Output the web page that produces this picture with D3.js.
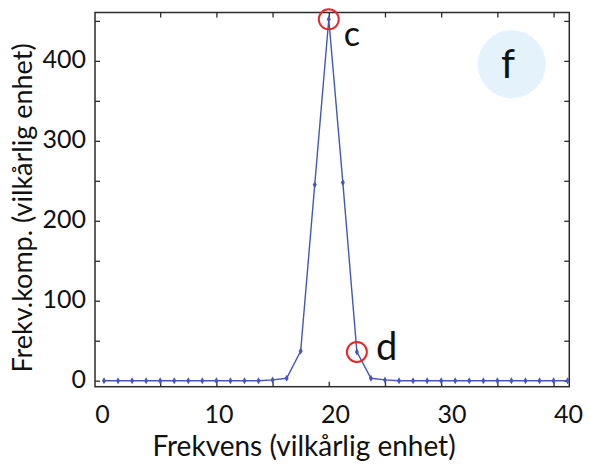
<!DOCTYPE html>
<html>
<head>
<meta charset="utf-8">
<script src="https://cdn.jsdelivr.net/npm/d3@7"></script>
<style>
  html, body { margin: 0; padding: 0; background: #fff; }
  svg { display: block; font-family: Lato, "Open Sans", sans-serif; }
</style>
</head>
<body>
<svg id="chart" width="590" height="468"></svg>
<script>
// Frequency bins (arbitrary unit) and the component amplitude at each bin
const freq = [0, 1.25, 2.5, 3.75, 5, 6.25, 7.5, 8.75, 10, 11.25, 12.5, 13.75,
              15, 16.25, 17.5, 18.75, 20, 21.25, 22.5, 23.75, 25, 26.25, 27.5,
              28.75, 30, 31.25, 32.5, 33.75, 35, 36.25, 37.5, 38.75, 40, 41.25];
const amp = [0, 0, 0, 0, 0, 0, 0, 0, 0, 0, 0, 0,
             1, 3, 37, 245, 452, 248, 36, 3, 1, 0, 0,
             0, 0, 0, 0, 0, 0, 0, 0, 0, 0, 0];

const xTickLabels = [0, 10, 20, 30, 40];
const xMinorTicks = [5, 10, 15, 20, 25, 30, 35, 40];
const yTickLabels = [0, 100, 200, 300, 400];
const yMinorTicks = [0, 50, 100, 150, 200, 250, 300, 350, 400, 450];

// Marked points: label and bin index
const marks = [
  { name: "c", idx: 16 },
  { name: "d", idx: 18 }
];

const panelLetter = "f";
const xTitle = "Frekvens (vilkårlig enhet)";
const yTitle = "Frekv.komp. (vilkårlig enhet)";

const svg = d3.select("#chart");
const box = { left: 95, right: 569.3, top: 12.5, bottom: 386.7 };

const x = d3.scaleLinear().domain([-0.8, 41.4]).range([box.left, box.right]);
const y = d3.scaleLinear().domain([-7.5, 460.5]).range([box.bottom, box.top]);
// tick numbers are spread across the full width of the frame
const xLabel = d3.scaleLinear().domain([0, 40]).range([102, 568]);

const frameColor = "#2b2b2b";
const lineColor = "#4257b8";

// panel badge
svg.append("circle")
  .attr("cx", 511.7).attr("cy", 64.2).attr("r", 34)
  .attr("fill", "#e4f2fc");
svg.append("text")
  .attr("x", 508).attr("y", 78)
  .attr("text-anchor", "middle")
  .attr("font-size", 40)
  .attr("fill", "#111")
  .text(panelLetter);

// inward ticks on all four sides
function styleTicks(g) {
  g.select(".domain").remove();
  g.selectAll(".tick line").attr("stroke", frameColor).attr("stroke-width", 1.3);
  g.selectAll(".tick text").remove();
}
svg.append("g").attr("transform", `translate(0,${box.bottom})`)
  .call(d3.axisBottom(x).tickValues(xMinorTicks).tickSize(-5)).call(styleTicks);
svg.append("g").attr("transform", `translate(0,${box.top})`)
  .call(d3.axisTop(x).tickValues(xMinorTicks).tickSize(-5)).call(styleTicks);
svg.append("g").attr("transform", `translate(${box.left},0)`)
  .call(d3.axisLeft(y).tickValues(yMinorTicks).tickSize(-5)).call(styleTicks);
svg.append("g").attr("transform", `translate(${box.right},0)`)
  .call(d3.axisRight(y).tickValues(yMinorTicks).tickSize(-5)).call(styleTicks);

// tick labels
const xl = svg.append("g").attr("transform", "translate(0,414)")
  .call(d3.axisBottom(xLabel).tickValues(xTickLabels).tickSize(0).tickPadding(0));
xl.select(".domain").remove();
xl.selectAll("text").attr("font-size", 25).attr("fill", "#111")
  .attr("font-family", "Lato, sans-serif").attr("dy", "0.35em").attr("y", 0);

const yl = svg.append("g").attr("transform", "translate(86,0)")
  .call(d3.axisLeft(y).tickValues(yTickLabels).tickSize(0).tickPadding(0));
yl.select(".domain").remove();
yl.selectAll("text").attr("font-size", 25).attr("fill", "#111")
  .attr("font-family", "Lato, sans-serif").attr("dy", "0.28em");

// frame
svg.append("rect")
  .attr("x", box.left).attr("y", box.top)
  .attr("width", box.right - box.left).attr("height", box.bottom - box.top)
  .attr("fill", "none").attr("stroke", frameColor).attr("stroke-width", 1.5);

// spectrum line and markers
const pts = freq.map((f, i) => ({ f, a: amp[i] }));
svg.append("path")
  .datum(pts)
  .attr("fill", "none")
  .attr("stroke", lineColor)
  .attr("stroke-width", 1.4)
  .attr("d", d3.line().x(d => x(d.f)).y(d => y(d.a)));

const sym = d3.symbol().type(d3.symbolDiamond).size(14);
svg.append("g").selectAll("path")
  .data(pts).join("path")
  .attr("transform", d => `translate(${x(d.f)},${y(d.a)})`)
  .attr("d", sym)
  .attr("fill", lineColor);

// highlighted points
svg.append("g").selectAll("circle")
  .data(marks).join("circle")
  .attr("cx", d => x(freq[d.idx])).attr("cy", d => y(amp[d.idx]))
  .attr("r", 10)
  .attr("fill", "none")
  .attr("stroke", "#e8262b")
  .attr("stroke-width", 2);

svg.append("text").attr("x", x(freq[16]) + 15).attr("y", y(amp[16]) + 27)
  .attr("font-size", 34).attr("fill", "#111").text(marks[0].name);
svg.append("text").attr("x", x(freq[18]) + 19).attr("y", y(amp[18]) + 8)
  .attr("font-size", 38).attr("fill", "#111").text(marks[1].name);

// axis titles
svg.append("text")
  .attr("x", 304).attr("y", 456)
  .attr("text-anchor", "middle")
  .attr("font-size", 28)
  .attr("fill", "#111")
  .text(xTitle);

svg.append("text")
  .attr("transform", "translate(32,208) rotate(-90)")
  .attr("text-anchor", "middle")
  .attr("font-size", 27)
  .attr("fill", "#111")
  .text(yTitle);
</script>
</body>
</html>
